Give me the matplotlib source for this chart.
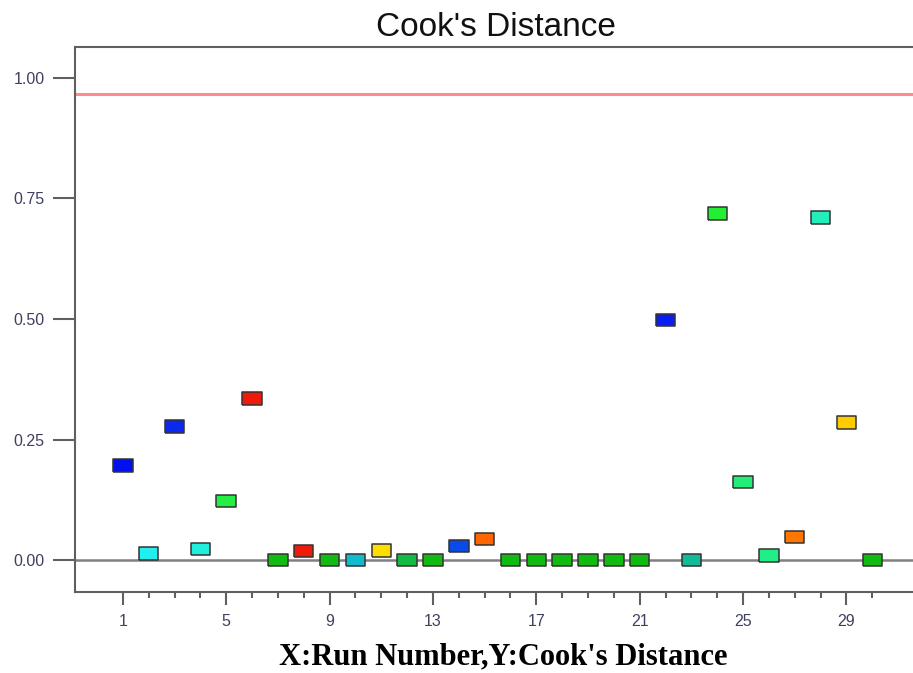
import numpy as np
import matplotlib
matplotlib.use('Agg')
import matplotlib.pyplot as plt
from matplotlib.ticker import FixedLocator

# data
runs = list(range(1, 31))
cooks = [0.196, 0.014, 0.277, 0.023, 0.123, 0.335, 0.0, 0.019, 0.0, 0.0,
         0.020, 0.0, 0.0, 0.029, 0.044, 0.0, 0.0, 0.0, 0.0, 0.0,
         0.0, 0.498, 0.0, 0.719, 0.162, 0.010, 0.048, 0.711, 0.285, 0.0]
limit = 0.967
colors = ['#0010ee', '#22eeee', '#0a28ee', '#22eedd', '#22ee44', '#ee1a0a',
          '#11bb11', '#ee1a0a', '#11bb11', '#11bbcc', '#ffdd00', '#11bb44',
          '#11bb11', '#0a4ae8', '#ff6600', '#11bb11', '#11bb11', '#11bb11',
          '#11bb11', '#11bb11', '#11bb11', '#0a1ef0', '#11bb99', '#22ee33',
          '#22ee77', '#22ee88', '#ff7700', '#22eebb', '#ffcc00', '#11bb11']
yticks = [0.0, 0.25, 0.5, 0.75, 1.0]
xticks = [1, 5, 9, 13, 17, 21, 25, 29]

fig = plt.figure(figsize=(9.13, 6.73), dpi=100)
W, H = 913, 673
# 軸はみ出し (右端は図の外)
ax = fig.add_axes([75 / W, (H - 592) / H, 849 / W, 545 / H])

rect = [(-1.55, -1), (1.55, -1), (1.55, 1), (-1.55, 1), (-1.55, -1)]
ax.axhline(0, color='#808080', lw=1.8, zorder=1)
ax.axhline(limit, color='#ff8c8c', lw=2.2, zorder=1)
ax.scatter(runs, cooks, s=14 ** 2, marker=rect, c=colors,
           edgecolors='#333333', linewidths=1.1, zorder=3)

ax.set_xlim(-0.85, 32.0)
ax.set_ylim(-0.066, 1.064)

ax.set_xticks(xticks)
ax.xaxis.set_minor_locator(FixedLocator(runs))
ax.set_yticks(yticks)
ax.set_yticklabels(['%.2f' % v for v in yticks])

for s in ['left', 'top', 'bottom']:
    ax.spines[s].set_color('#606060')
    ax.spines[s].set_linewidth(1.5)
ax.spines['right'].set_visible(False)

ax.tick_params(axis='y', length=16, width=1.5, color='#606060', pad=6,
               labelsize=11.5, labelcolor='#404060')
ax.tick_params(axis='x', which='major', length=9, width=1.5, color='#606060',
               pad=7, labelsize=11.5, labelcolor='#404060')
ax.tick_params(axis='x', which='minor', length=4.5, width=1.5, color='#606060')
for lab in ax.get_xticklabels() + ax.get_yticklabels():
    lab.set_family('Liberation Sans')

fig.text(496 / W, 1 - 28 / H, "Cook's Distance", ha='center', va='center',
         fontsize=24, family='Liberation Sans', color='#111111')
fig.text(503 / W, 1 - 657 / H, "X:Run Number,Y:Cook's Distance", ha='center',
         va='center', fontsize=22, fontweight='bold', family='Liberation Serif')

fig.savefig('out.png', dpi=100)
